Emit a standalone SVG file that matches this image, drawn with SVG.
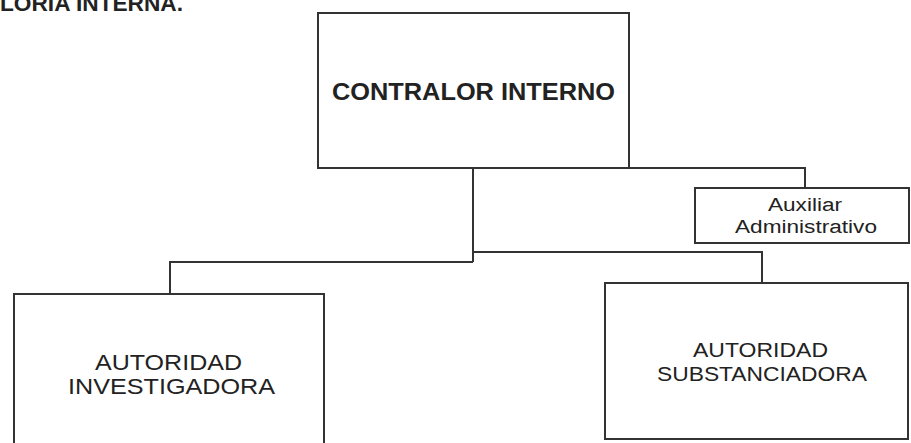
<svg xmlns="http://www.w3.org/2000/svg" width="911" height="443" viewBox="0 0 911 443">
<style>
.box{fill:#fff;stroke:#333;stroke-width:2}
.con{fill:none;stroke:#333;stroke-width:2}
text{font-family:"Liberation Sans",Arial,sans-serif;fill:#222;text-anchor:middle}
.b{font-weight:bold}
</style>
<rect width="911" height="443" fill="#fff"/>
<text class="b" x="0" y="11" font-size="22" text-anchor="start" style="text-anchor:start" textLength="183" lengthAdjust="spacingAndGlyphs">LORIA INTERNA.</text>
<g id="connectors">
<path class="con" d="M629,168 H805 V188"/>
<path class="con" d="M473,168 V262"/>
<path class="con" d="M170,294 V262 H473"/>
<path class="con" d="M473,252 H762 V283"/>
</g>
<g id="contralor">
<rect class="box" x="318" y="13" width="311" height="155"/>
<text class="b" x="473.5" y="100" font-size="23" textLength="283" lengthAdjust="spacingAndGlyphs">CONTRALOR INTERNO</text>
</g>
<g id="auxiliar">
<rect class="box" x="695" y="188" width="214" height="55"/>
<text x="805" y="211" font-size="18" textLength="74" lengthAdjust="spacingAndGlyphs">Auxiliar</text>
<text x="806" y="233" font-size="18" textLength="142" lengthAdjust="spacingAndGlyphs">Administrativo</text>
</g>
<g id="investigadora">
<rect class="box" x="14" y="294" width="310" height="160"/>
<text x="168.5" y="370" font-size="22" textLength="147" lengthAdjust="spacingAndGlyphs">AUTORIDAD</text>
<text x="171.5" y="394" font-size="22" textLength="207" lengthAdjust="spacingAndGlyphs">INVESTIGADORA</text>
</g>
<g id="substanciadora">
<rect class="box" x="605" y="283" width="303" height="156"/>
<text x="760.5" y="357" font-size="21" textLength="135" lengthAdjust="spacingAndGlyphs">AUTORIDAD</text>
<text x="762" y="381" font-size="21" textLength="210" lengthAdjust="spacingAndGlyphs">SUBSTANCIADORA</text>
</g>
</svg>
